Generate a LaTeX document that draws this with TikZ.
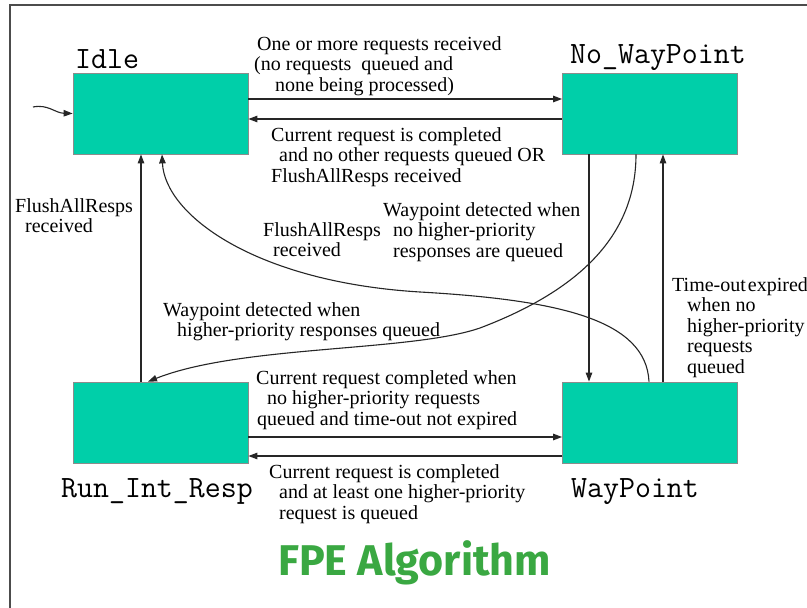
\documentclass[tikz,border=0pt]{standalone}
\usepackage{fontspec}
\setmainfont{Liberation Serif}
\newfontfamily\titlefont{Fira Sans}
\usetikzlibrary{arrows.meta,calc}

\definecolor{statefill}{RGB}{0,207,169}
\definecolor{titlegreen}{RGB}{58,168,66}

\tikzset{
  statebox/.style={draw=black!45, line width=0.8pt, fill=statefill,
    minimum width=175pt, minimum height=81pt, inner sep=0pt},
  statename/.style={font=\ttfamily\fontsize{31}{33}\selectfont, inner sep=0pt, anchor=base west},
  trans/.style={draw=black!85, line width=1.1pt, -{Triangle[length=9pt,width=6.5pt]}},
  note/.style={font=\fontsize{20}{20.5}\selectfont, align=left, inner sep=0pt, anchor=north west},
}

\begin{document}
\begin{tikzpicture}[x=1pt,y=-1pt]
  \useasboundingbox (0,0) rectangle (807,608);
  \fill[white] (0,0) rectangle (807,608);

  % outer frame (left and top edges)
  \draw[black!70, line width=2pt] (10,612) -- (10,5) -- (812,5);

  % states
  \node[statebox] (idle) at (160.5,113.5) {};
  \node[statebox] (nwp)  at (650,113.5) {};
  \node[statebox] (run)  at (160.5,422.5) {};
  \node[statebox] (wp)   at (650,422.5) {};

  \node[statename] (idlename) at (75,68)  {Idle};
  \node[statename] (nwpname)  at (570,63) {No\_WayPoint};
  \node[statename] (runname)  at (61,497) {Run\_Int\_Resp};
  \node[statename] (wpname)   at (571,497) {WayPoint};

  % initial transition
  \coordinate (init) at (33,107);
  \draw[trans] (init) .. controls (48,104) and (55,113) .. (idle.west);

  % Idle <-> No_WayPoint
  \draw[trans] ($(idle.east)+(0,-14.5)$) -- ($(nwp.west)+(0,-14.5)$);
  \draw[trans] ($(nwp.west)+(0,5.5)$) -- ($(idle.east)+(0,5.5)$);

  % Run_Int_Resp -> Idle
  \draw[trans] ($(run.north)+(-19.5,0)$) -- ($(idle.south)+(-19.5,0)$);

  % WayPoint -> Idle (FlushAllResps)
  \draw[trans] ($(wp.north)+(-1,0)$) .. controls (646,320) and (560,300) .. (420,292)
                .. controls (255,282) and (165,215) .. ($(idle.south)+(1.5,0)$);

  % No_WayPoint <-> WayPoint
  \draw[trans] ($(nwp.south)+(-61,0)$) -- ($(wp.north)+(-61,0)$);
  \draw[trans] ($(wp.north)+(13,0)$) -- ($(nwp.south)+(13,0)$);

  % No_WayPoint -> Run_Int_Resp
  \draw[trans] ($(nwp.south)+(-14,0)$) .. controls (636,235) and (580,290) .. (480,328)
                .. controls (410,352) and (240,345) .. ($(run.north)+(-12.5,0)$);

  % Run_Int_Resp <-> WayPoint
  \draw[trans] ($(run.east)+(0,14.5)$) -- ($(wp.west)+(0,14.5)$);
  \draw[trans] ($(wp.west)+(0,33.5)$) -- ($(run.east)+(0,33.5)$);

  % transition labels
  \node[note] (l1) at (254,36) {\hspace*{3pt}One or more requests received\\(no requests \ queued and\\\hspace*{21pt}none being processed)};
  \node[note] (l2) at (271,127) {Current request is completed\\\hspace*{8pt}and no other requests queued OR\\FlushAllResps received};
  \node[note] (l3) at (15,198) {FlushAllResps\\\hspace*{10pt}received};
  \node[note] (l4) at (263,222) {FlushAllResps\\\hspace*{10pt}received};
  \node[note] (l5) at (383,202) {Waypoint detected when\\\hspace*{10pt}no higher-priority\\\hspace*{10pt}responses are queued};
  \node[note] (l6) at (163,302) {Waypoint detected when\\\hspace*{14pt}higher-priority responses queued};
  \node[note] (l7) at (672,277) {Time-out\hspace{2pt}expired\\\hspace*{15pt}when no\\\hspace*{15pt}higher-priority\\\hspace*{15pt}requests\\\hspace*{15pt}queued};
  \node[note] (l8) at (256,370) {Current request completed when\\\hspace*{11pt}no higher-priority requests\\\hspace*{1pt}queued and time-out not expired};
  \node[note] (l9) at (269,464) {Current request is completed\\\hspace*{10pt}and at least one higher-priority\\\hspace*{10pt}request is queued};

  % title
  \node[font=\titlefont\bfseries\fontsize{43}{46}\selectfont, text=titlegreen,
        inner sep=0pt, anchor=base west] (title) at (278,575) {FPE Algorithm};
\end{tikzpicture}
\end{document}
